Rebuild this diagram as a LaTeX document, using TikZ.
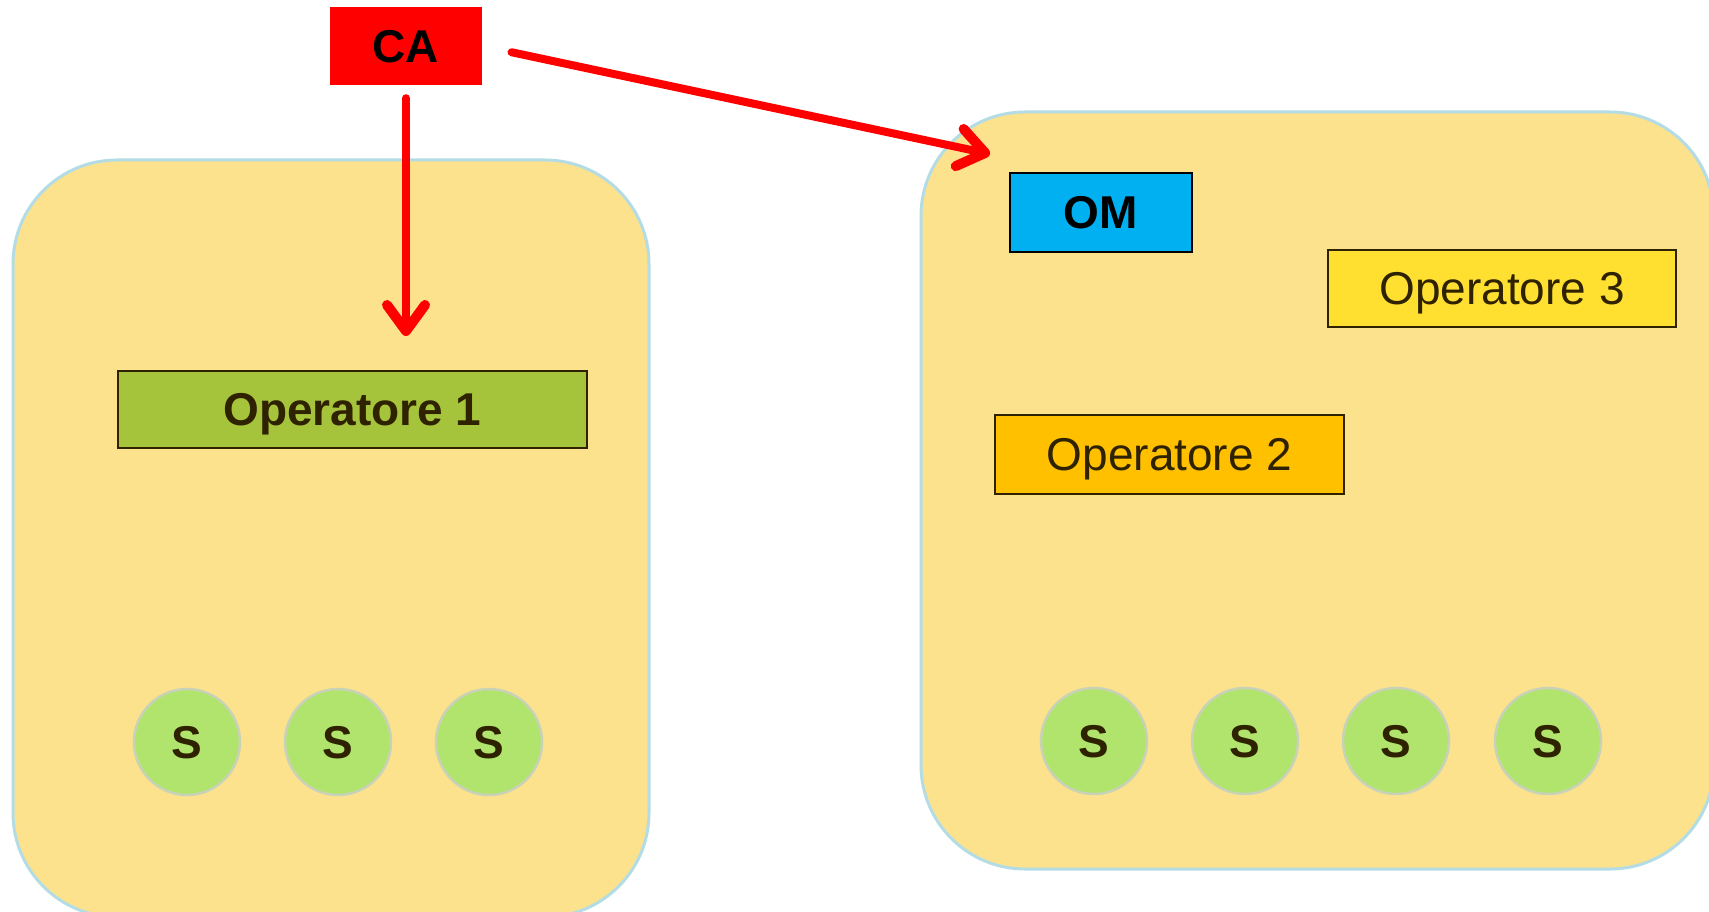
\documentclass[tikz,border=0pt]{standalone}
\usepackage{fontspec}
\setmainfont{Liberation Sans}
\usetikzlibrary{arrows.meta}
\definecolor{bigfill}{HTML}{FDE28E}
\definecolor{bigedge}{HTML}{B4DCE4}
\definecolor{opone}{HTML}{A5C43C}
\definecolor{optwo}{HTML}{FFC000}
\definecolor{opthree}{HTML}{FFE030}
\definecolor{omblue}{HTML}{00B0F0}
\definecolor{sfill}{HTML}{B0E46C}
\definecolor{sedge}{HTML}{C8D2B6}
\definecolor{optext}{HTML}{2E2200}
\tikzset{
  region/.style={fill=bigfill, draw=bigedge, line width=3pt, rounded corners=104pt},
  opbox/.style={draw=optext, line width=2pt, inner sep=0pt, text=optext, text depth=0pt,
    font=\fontsize{46}{55}\selectfont},
  tagbox/.style={inner sep=0pt, text depth=0pt, font=\fontsize{46}{55}\selectfont\bfseries},
  snode/.style={circle, fill=sfill, draw=sedge, line width=2.5pt, minimum size=106pt,
    inner sep=0pt, text=optext, text depth=0pt, font=\fontsize{46}{55}\selectfont\bfseries},
  redarrow/.style={draw=red, line width=8pt, line cap=round,
    -{Straight Barb[length=26pt,width=38pt,round,line width=0pt 1.25]}}
}
\begin{document}
\begin{tikzpicture}[x=1pt,y=-1pt]
\useasboundingbox (0,0) rectangle (1709,912);
\clip (0,0) rectangle (1709,912);
\fill[white] (0,0) rectangle (1709,912);
% regions
\draw[region] (13,160) rectangle (649,917);
\draw[region] (921,112) rectangle (1714,869);
% top tags
\node[tagbox, fill=red, minimum width=152pt, minimum height=78pt] (ca) at (406,46) {CA};
\node[tagbox, fill=omblue, draw=black, line width=2pt, minimum width=182pt, minimum height=79pt] (om) at (1101,212.5) {OM};
% operators
\node[opbox, fill=opone, font=\fontsize{46}{55}\selectfont\bfseries, minimum width=469pt, minimum height=77pt] (op1) at (352.5,409) {Operatore 1};
\node[opbox, fill=optwo, minimum width=349pt, minimum height=79pt] (op2) at (1169.5,454.5) {Operatore 2};
\node[opbox, fill=opthree, minimum width=348pt, minimum height=77pt] (op3) at (1502,288.5) {Operatore 3};
% S nodes
\node[snode] (s1) at (187,742) {S};
\node[snode] (s2) at (338,742) {S};
\node[snode] (s3) at (489,742) {S};
\node[snode] (s4) at (1094,741) {S};
\node[snode] (s5) at (1245,741) {S};
\node[snode] (s6) at (1396,741) {S};
\node[snode] (s7) at (1548,741) {S};
% arrows
\coordinate (tip1) at (406,336);
\coordinate (tip2) at (990,154);
\draw[redarrow, shorten <=13pt] (ca.south) -- (tip1);
\draw[redarrow, shorten <=30pt] (ca.east) -- (tip2);
\end{tikzpicture}
\end{document}
